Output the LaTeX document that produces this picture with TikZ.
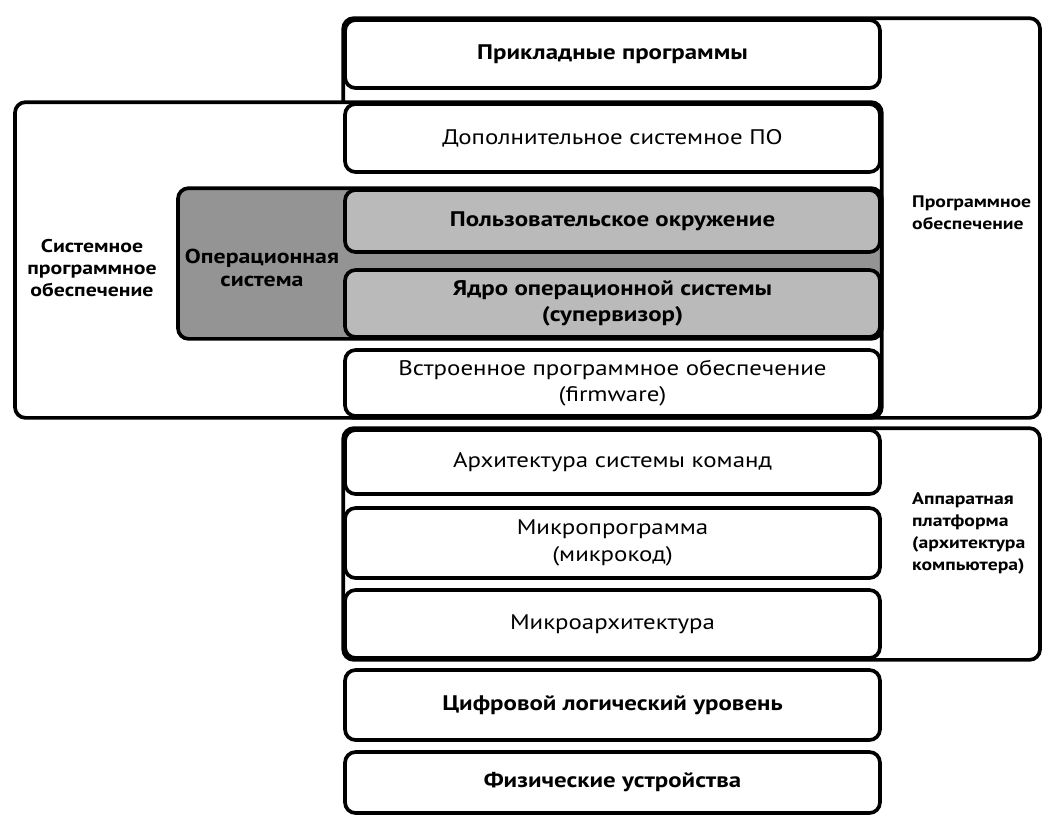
\documentclass[tikz,border=0pt]{standalone}
\usepackage{fontspec}
\setmainfont{PT Sans}[FakeStretch=1.18]
\usetikzlibrary{backgrounds}

\begin{document}
\begin{tikzpicture}[x=0.02cm, y=-0.02cm,
    layer/.style={draw, line width=2.1pt, rounded corners=6pt, fill=white,
        minimum width=10.7cm, align=center, font=\fontsize{12}{15}\selectfont},
    oslayer/.style={layer, fill=black!27},
    group/.style={draw, line width=2.1pt, rounded corners=6pt, fill=white},
    sidetext/.style={align=left, font=\fontsize{10.5}{12.5}\selectfont\bfseries},
    righttext/.style={sidetext, anchor=west, font=\fontsize{9.5}{12.5}\selectfont\bfseries}
]
    \useasboundingbox (0,0) rectangle (1048,816);

    \node[layer, minimum height=1.36cm, font=\fontsize{12}{15}\selectfont\bfseries] (app) at (612.5,54) {Прикладные программы};
    \node[layer, minimum height=1.36cm] (addsys) at (612.5,138) {Дополнительное системное ПО};
    \node[oslayer, minimum height=1.24cm, font=\fontsize{12}{15}\selectfont\bfseries] (user) at (612.5,221) {Пользовательское окружение};
    \node[oslayer, minimum height=1.34cm, font=\fontsize{12}{15}\selectfont\bfseries] (kernel) at (612.5,303.5) {Ядро операционной системы\\(супервизор)};
    \node[layer, minimum height=1.32cm] (firmware) at (612.5,383) {Встроенное программное обеспечение\\(firmware)};
    \node[layer, minimum height=1.28cm] (arch) at (612.5,462) {Архитектура системы команд};
    \node[layer, minimum height=1.4cm] (microprog) at (612.5,543) {Микропрограмма\\(микрокод)};
    \node[layer, minimum height=1.36cm] (microarch) at (612.5,624) {Микроархитектура};
    \node[layer, minimum height=1.4cm, font=\fontsize{12}{15}\selectfont\bfseries] (digital) at (612.5,705) {Цифровой логический уровень};
    \node[layer, minimum height=1.22cm, font=\fontsize{12}{15}\selectfont\bfseries] (physical) at (612.5,782.5) {Физические устройства};

    \coordinate (right edge) at (1040,0);
    \coordinate (sys left) at (15,0);
    \coordinate (os left) at (178,0);

    \begin{pgfonlayer}{background}
        \draw[group] (app.north west) rectangle (right edge |- firmware.south);
        \draw[group] (arch.north west) rectangle (right edge |- microarch.south);
        \draw[group] (sys left |- addsys.north) rectangle (firmware.south east);
        \draw[group, fill=black!42] (os left |- user.north) rectangle (kernel.south east);
    \end{pgfonlayer}

    \node[sidetext, align=center] (sysso) at (92,268) {Системное\\программное\\обеспечение};
    \node[sidetext, align=center, font=\fontsize{11.5}{13.5}\selectfont\bfseries] (os) at (262,268) {Операционная\\система};
    \node[righttext] (so) at (906,213) {Программное\\обеспечение};
    \node[righttext] (hw) at (906,533) {Аппаратная\\платформа\\(архитектура\\компьютера)};
\end{tikzpicture}
\end{document}
